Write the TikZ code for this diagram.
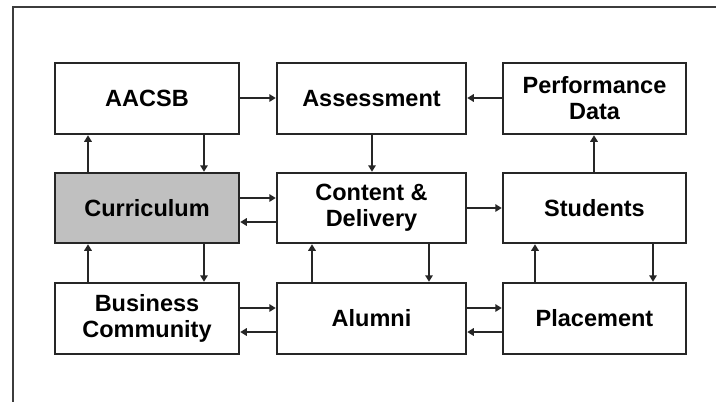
\documentclass[tikz,border=0pt]{standalone}
\usepackage{fontspec}
\setmainfont{Liberation Sans}
\usetikzlibrary{arrows.meta}
\definecolor{edge}{HTML}{262626}
\definecolor{shade}{HTML}{C0C0C0}
\tikzset{
  frame/.style={draw=edge!90, line width=2.5pt},
  box/.style={draw=edge, line width=2.5pt, fill=white, minimum width=184pt,
    minimum height=71pt, inner sep=0pt, align=center,
    font=\bfseries\fontsize{23.5}{26}\selectfont},
  widebox/.style={box, minimum width=189pt},
  narrowbox/.style={box, minimum width=183pt},
  arr/.style={draw=edge, line width=2.5pt, -{Triangle[length=6.5pt,width=7.5pt]}},
}
\begin{document}
\begin{tikzpicture}[x=1pt, y=-1pt]
  \useasboundingbox (0,0) rectangle (716,402);
  \clip (0,0) rectangle (716,402);
  \fill[white] (0,0) rectangle (716,402);
  % outer frame, running off the right and bottom edges
  \draw[frame] (13,7) rectangle (740,430);

  % top row
  \node[box] (aacsb) at (147,98.5) {AACSB};
  \node[widebox] (assess) at (371.5,98.5) {Assessment};
  \node[narrowbox] (perf) at (594.5,98.5) {Performance\\Data};
  % middle row
  \node[box, fill=shade, minimum height=70pt] (curr) at (147,208) {Curriculum};
  \node[widebox, minimum height=70pt] (content) at (371.5,208) {Content \&\\Delivery};
  \node[narrowbox, minimum height=70pt] (students) at (594.5,208) {Students};
  % bottom row
  \node[box] (business) at (147,318.5) {Business\\Community};
  \node[widebox] (alumni) at (371.5,318.5) {Alumni};
  \node[narrowbox] (placement) at (594.5,318.5) {Placement};

  % guide lines for the connectors
  \coordinate (c1u) at (88,0);  \coordinate (c1d) at (204,0);
  \coordinate (c2u) at (312,0); \coordinate (c2m) at (372,0); \coordinate (c2d) at (429,0);
  \coordinate (c3u) at (535,0); \coordinate (c3m) at (594,0); \coordinate (c3d) at (653,0);
  \coordinate (r1) at (0,98);
  \coordinate (r2a) at (0,198); \coordinate (r2) at (0,208); \coordinate (r2b) at (0,222);
  \coordinate (r3a) at (0,308); \coordinate (r3b) at (0,332);

  % top row links
  \draw[arr] (aacsb.east |- r1) -- (assess.west |- r1);
  \draw[arr] (perf.west |- r1) -- (assess.east |- r1);
  % top to middle
  \draw[arr] (curr.north -| c1u) -- (aacsb.south -| c1u);
  \draw[arr] (aacsb.south -| c1d) -- (curr.north -| c1d);
  \draw[arr] (assess.south -| c2m) -- (content.north -| c2m);
  \draw[arr] (students.north -| c3m) -- (perf.south -| c3m);
  % middle row links
  \draw[arr] (curr.east |- r2a) -- (content.west |- r2a);
  \draw[arr] (content.west |- r2b) -- (curr.east |- r2b);
  \draw[arr] (content.east |- r2) -- (students.west |- r2);
  % middle to bottom
  \draw[arr] (business.north -| c1u) -- (curr.south -| c1u);
  \draw[arr] (curr.south -| c1d) -- (business.north -| c1d);
  \draw[arr] (alumni.north -| c2u) -- (content.south -| c2u);
  \draw[arr] (content.south -| c2d) -- (alumni.north -| c2d);
  \draw[arr] (placement.north -| c3u) -- (students.south -| c3u);
  \draw[arr] (students.south -| c3d) -- (placement.north -| c3d);
  % bottom row links
  \draw[arr] (business.east |- r3a) -- (alumni.west |- r3a);
  \draw[arr] (alumni.west |- r3b) -- (business.east |- r3b);
  \draw[arr] (alumni.east |- r3a) -- (placement.west |- r3a);
  \draw[arr] (placement.west |- r3b) -- (alumni.east |- r3b);
\end{tikzpicture}
\end{document}
